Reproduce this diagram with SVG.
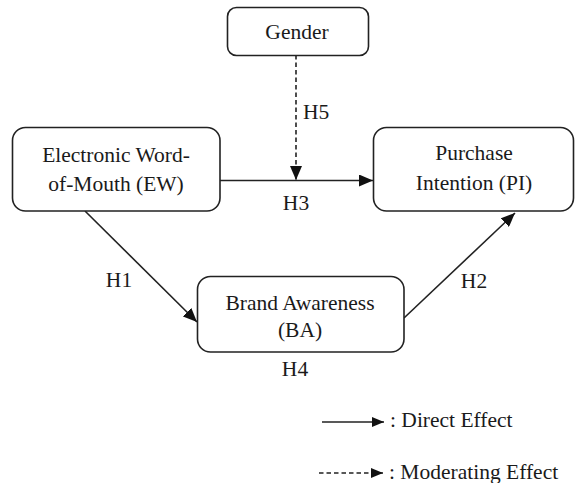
<svg xmlns="http://www.w3.org/2000/svg" width="575" height="483" viewBox="0 0 575 483">
<style>
.box{fill:#fff;stroke:#222;stroke-width:1.6}
.t{font-family:'Liberation Serif',Tinos,'Times New Roman',Times,'DejaVu Serif','Noto Serif',serif;font-size:21.5px;fill:#1a1a1a}
.c{text-anchor:middle}
.ln{stroke:#222;stroke-width:1.6;fill:none}
.d{stroke-dasharray:4.5 3}
</style>
<defs>
<marker id="ah" markerUnits="userSpaceOnUse" markerWidth="15" markerHeight="12" refX="14" refY="6" orient="auto">
<path d="M0,0 L14,6 L0,12 z" fill="#111"/>
</marker>
<marker id="ahs" markerUnits="userSpaceOnUse" markerWidth="13" markerHeight="11" refX="12" refY="5" orient="auto">
<path d="M0,0 L12,5 L0,10 z" fill="#111"/>
</marker>
</defs>
<rect width="575" height="483" fill="#fff"/>
<g id="connectors">
<line class="ln" x1="220" y1="180.5" x2="373" y2="180.5" marker-end="url(#ah)"/>
<line class="ln d" x1="296" y1="55" x2="296" y2="180" marker-end="url(#ah)"/>
<line class="ln" x1="85" y1="211" x2="197" y2="322" marker-end="url(#ah)"/>
<line class="ln" x1="404" y1="318" x2="515" y2="213" marker-end="url(#ah)"/>
<text class="t" x="303" y="119">H5</text>
<text class="t c" x="296" y="210">H3</text>
<text class="t c" x="119" y="287">H1</text>
<text class="t c" x="474" y="288">H2</text>
<text class="t c" x="295" y="376">H4</text>
</g>
<g id="gender">
<rect class="box" x="227.5" y="7.5" width="141" height="48" rx="9"/>
<text class="t c" x="297" y="39">Gender</text>
</g>
<g id="ew">
<rect class="box" x="12.5" y="127.5" width="207.5" height="83.5" rx="13"/>
<text class="t c" x="116" y="162">Electronic Word-</text>
<text class="t c" x="116" y="191">of-Mouth (EW)</text>
</g>
<g id="pi">
<rect class="box" x="373.5" y="127.5" width="200" height="83.5" rx="13"/>
<text class="t c" x="474" y="160">Purchase</text>
<text class="t c" x="474" y="190">Intention (PI)</text>
</g>
<g id="ba">
<rect class="box" x="197.5" y="276.5" width="206.5" height="75.5" rx="13"/>
<text class="t c" x="300" y="310">Brand Awareness</text>
<text class="t c" x="300" y="337">(BA)</text>
</g>
<g id="legend">
<line class="ln" x1="322" y1="422" x2="384" y2="422" marker-end="url(#ahs)"/>
<text class="t" x="390" y="427">: Direct Effect</text>
<line class="ln d" x1="319" y1="473" x2="383" y2="473" marker-end="url(#ahs)"/>
<text class="t" x="389" y="479">: Moderating Effect</text>
</g>
</svg>
